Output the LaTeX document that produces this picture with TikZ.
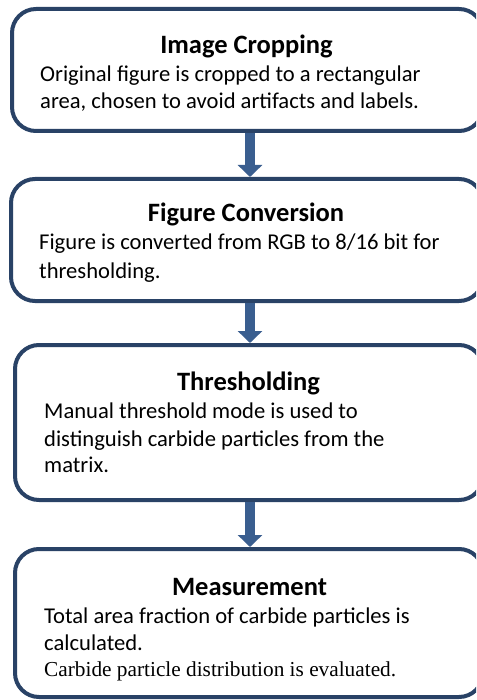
\documentclass[tikz,border=0pt]{standalone}
\usepackage{fontspec}
\setmainfont{Carlito}
\newfontfamily\serifline{Liberation Serif}
\usetikzlibrary{arrows.meta}
\definecolor{boxedge}{RGB}{41,66,102}
\definecolor{flowblue}{RGB}{58,94,143}
\tikzset{
  stagebox/.style={draw=boxedge, line width=4pt, rounded corners=24pt, fill=white, inner sep=0pt},
  stagetitle/.style={anchor=base, inner sep=0pt, font=\fontsize{26.5}{32}\selectfont\bfseries},
  stageline/.style={anchor=base west, inner sep=0pt, font=\fontsize{22.6}{27}\selectfont},
  serifnote/.style={anchor=base west, inner sep=0pt, font=\fontsize{21.3}{26}\selectfont\serifline},
  flow/.style={draw=flowblue, line width=10pt, -{Triangle[width=24pt,length=12pt]}}
}
\begin{document}
\begin{tikzpicture}[x=1pt, y=-1pt]
\useasboundingbox (0,0) rectangle (476,700);
\clip (0,0) rectangle (476,700);

% stage boxes (right edges run past the frame)
\node[stagebox, minimum width=471pt, minimum height=122pt] (crop) at (247.5,70) {};
\node[stagebox, minimum width=472pt, minimum height=122pt] (conv) at (247,240) {};
\node[stagebox, minimum width=468pt, minimum height=155pt] (thr)  at (249,422.5) {};
\node[stagebox, minimum width=468pt, minimum height=148pt] (meas) at (249,623) {};

% connectors along a common vertical
\coordinate (axis) at (250,0);
\draw[flow] (crop.south -| axis) -- (conv.north -| axis);
\draw[flow] (conv.south -| axis) -- (thr.north -| axis);
\draw[flow] (thr.south -| axis) -- (meas.north -| axis);

% Image Cropping
\node[stagetitle] (t1) at (246.5,53.3) {Image Cropping};
\node[stageline] (l11) at (40,81.7) {Original figure is cropped to a rectangular};
\node[stageline] (l12) at (40,108.3) {area, chosen to avoid artifacts and labels.};

% Figure Conversion
\node[stagetitle] (t2) at (246,221.7) {Figure Conversion};
\node[stageline] (l21) at (39,250) {Figure is converted from RGB to 8/16 bit for};
\node[stageline] (l22) at (39,278.3) {thresholding.};

% Thresholding
\node[stagetitle] (t3) at (248.5,390.7) {Thresholding};
\node[stageline] (l31) at (44,418.3) {Manual threshold mode is used to};
\node[stageline] (l32) at (44,446) {distinguish carbide particles from the};
\node[stageline] (l33) at (44,472.7) {matrix.};

% Measurement
\node[stagetitle] (t4) at (249.5,595) {Measurement};
\node[stageline] (l41) at (44,623.3) {Total area fraction of carbide particles is};
\node[stageline] (l42) at (44,650) {calculated.};
\node[serifnote] (l43) at (44,676.7) {Carbide particle distribution is evaluated.};
\end{tikzpicture}
\end{document}
